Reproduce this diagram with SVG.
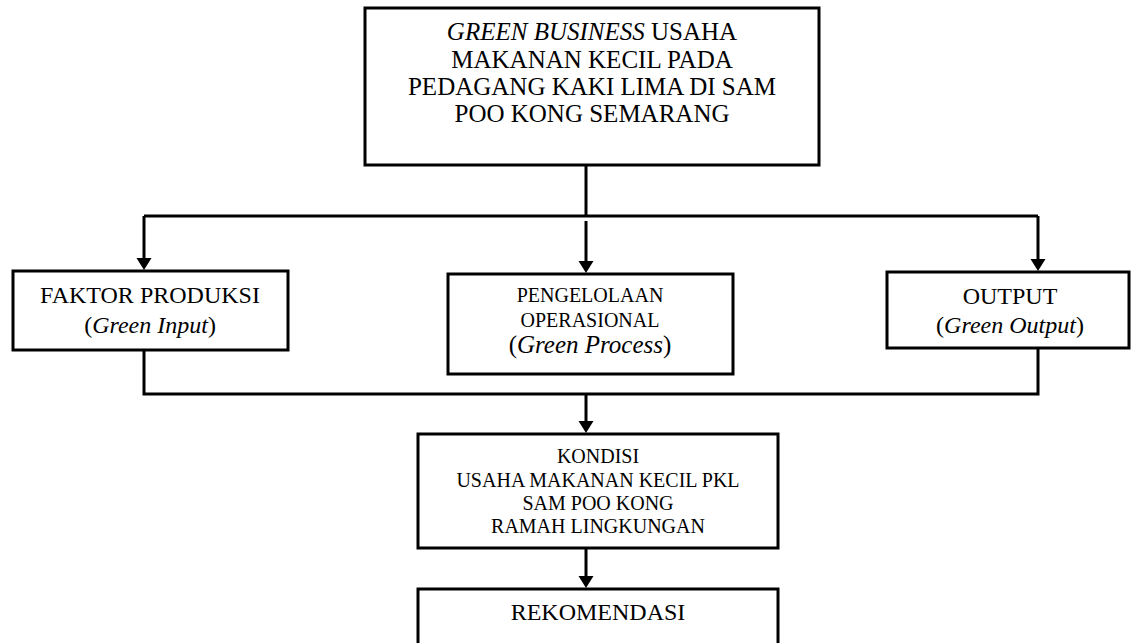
<svg xmlns="http://www.w3.org/2000/svg" width="1135" height="643" viewBox="0 0 1135 643">
<style>
.box{fill:#fff;stroke:#000;stroke-width:3}
.ln{fill:none;stroke:#000;stroke-width:3}
text{font-family:"Liberation Serif","Times New Roman",serif;fill:#000;text-anchor:middle}
.t25{font-size:25px}.t24{font-size:24px}.t20{font-size:20px}
.i{font-style:italic}
</style>
<defs>
<marker id="ah" markerUnits="userSpaceOnUse" markerWidth="14" markerHeight="16" refX="2" refY="7.5" orient="auto">
<path d="M0,0 L12,7.5 L0,15 z" fill="#000"/>
</marker>
</defs>
<rect width="1135" height="643" fill="#fff"/>
<g id="connectors">
<path class="ln" d="M586,165 V216"/>
<path class="ln" d="M144,216 H1038"/>
<path class="ln" d="M144,216 V260" marker-end="url(#ah)"/>
<path class="ln" d="M1038,216 V261" marker-end="url(#ah)"/>
<path class="ln" d="M586,221 V263" marker-end="url(#ah)"/>
<path class="ln" d="M144,350 V394 H1038 V348"/>
<path class="ln" d="M586,394 V423" marker-end="url(#ah)"/>
<path class="ln" d="M586,548 V578" marker-end="url(#ah)"/>
</g>
<g id="top">
<rect class="box" x="365" y="8" width="454" height="157"/>
<text class="t25" x="592" y="40"><tspan class="i">GREEN BUSINESS</tspan> USAHA</text>
<text class="t25" x="592" y="67.5">MAKANAN KECIL PADA</text>
<text class="t25" x="592" y="95">PEDAGANG KAKI LIMA DI SAM</text>
<text class="t25" x="592" y="122">POO KONG SEMARANG</text>
</g>
<g id="faktor">
<rect class="box" x="13" y="271" width="275" height="79"/>
<text class="t24" x="150" y="303">FAKTOR PRODUKSI</text>
<text class="t24" x="150" y="333">(<tspan class="i">Green Input</tspan>)</text>
</g>
<g id="pengelolaan">
<rect class="box" x="448" y="274" width="285" height="100"/>
<text class="t20" x="590" y="302">PENGELOLAAN</text>
<text class="t20" x="590" y="327">OPERASIONAL</text>
<text class="t25" x="590" y="353">(<tspan class="i">Green Process</tspan>)</text>
</g>
<g id="output">
<rect class="box" x="887" y="272" width="242" height="76"/>
<text class="t24" x="1010" y="304">OUTPUT</text>
<text class="t24" x="1010" y="333">(<tspan class="i">Green Output</tspan>)</text>
</g>
<g id="kondisi">
<rect class="box" x="418" y="434" width="360" height="114"/>
<text class="t20" x="598" y="463">KONDISI</text>
<text class="t20" x="598" y="487">USAHA MAKANAN KECIL PKL</text>
<text class="t20" x="598" y="510">SAM POO KONG</text>
<text class="t20" x="598" y="533">RAMAH LINGKUNGAN</text>
</g>
<g id="rekomendasi">
<rect class="box" x="418" y="589" width="360" height="70"/>
<text class="t24" x="598" y="620">REKOMENDASI</text>
</g>
</svg>
